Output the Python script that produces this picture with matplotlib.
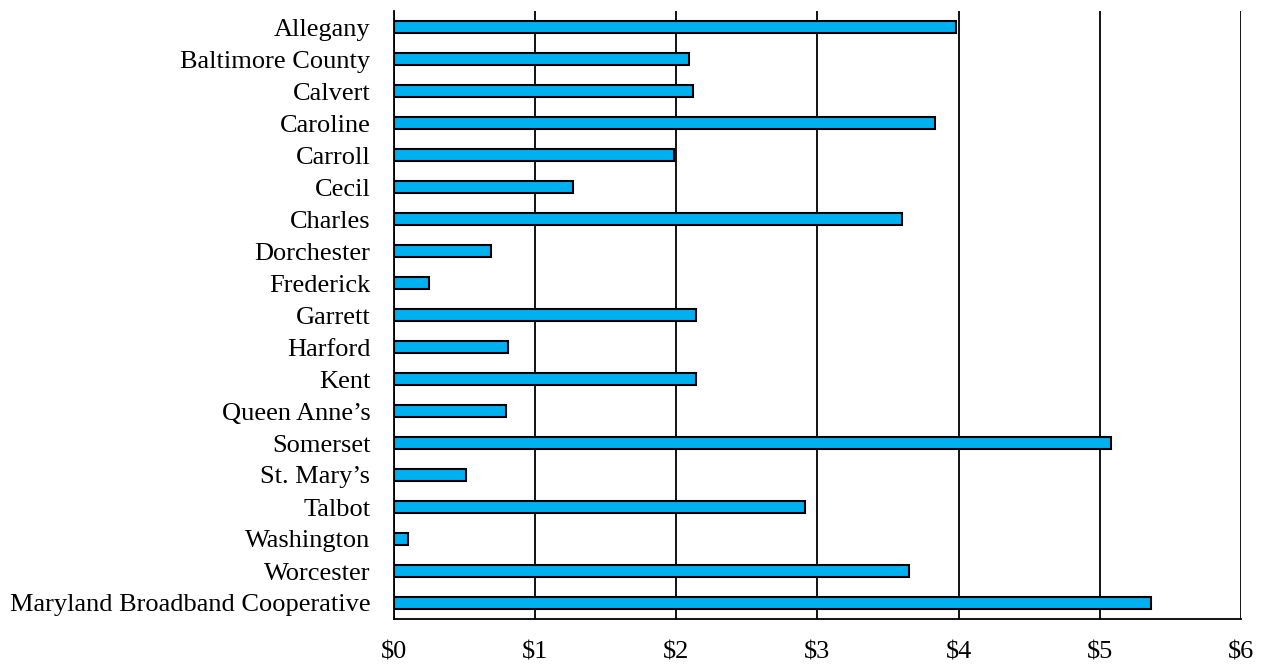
import numpy as np
import matplotlib
matplotlib.use('Agg')
import matplotlib.pyplot as plt

plt.rcParams['font.family'] = ['Liberation Serif', 'DejaVu Serif']

counties = [
    "Allegany", "Baltimore County", "Calvert", "Caroline", "Carroll", "Cecil",
    "Charles", "Dorchester", "Frederick", "Garrett", "Harford", "Kent",
    "Queen Anne\u2019s", "Somerset", "St. Mary\u2019s", "Talbot", "Washington",
    "Worcester", "Maryland Broadband Cooperative",
]
values = [3.98, 2.09, 2.12, 3.83, 1.98, 1.27, 3.60, 0.69, 0.25, 2.14,
          0.81, 2.14, 0.79, 5.08, 0.51, 2.91, 0.10, 3.65, 5.36]
xticks = [0, 1, 2, 3, 4, 5, 6]
xtick_labels = ["$0", "$1", "$2", "$3", "$4", "$5", "$6"]

fig = plt.figure(figsize=(12.67, 6.64), dpi=100)
ax = fig.add_axes([394 / 1267, 1 - 619 / 664, (1241 - 394) / 1267, (619 - 11) / 664])

y = np.arange(len(counties))
ax.barh(y, values, height=0.38, color='#00B0F0', edgecolor='black', linewidth=1.5, zorder=3)

ax.set_xlim(0, 6)
ax.set_ylim(len(counties) - 0.5, -0.5)
ax.set_xticks(xticks)
ax.set_xticklabels(xtick_labels)
ax.set_yticks(y)
ax.set_yticklabels(counties)
ax.tick_params(axis='both', length=0, labelsize=19)
ax.tick_params(axis='x', pad=16.5)
ax.tick_params(axis='y', pad=17)

ax.grid(axis='x', color='black', linewidth=1.3, zorder=0)
ax.spines['top'].set_visible(False)
ax.spines['right'].set_visible(False)
ax.spines['left'].set_linewidth(1.3)
ax.spines['bottom'].set_linewidth(1.3)

plt.savefig('out.png', dpi=100)
